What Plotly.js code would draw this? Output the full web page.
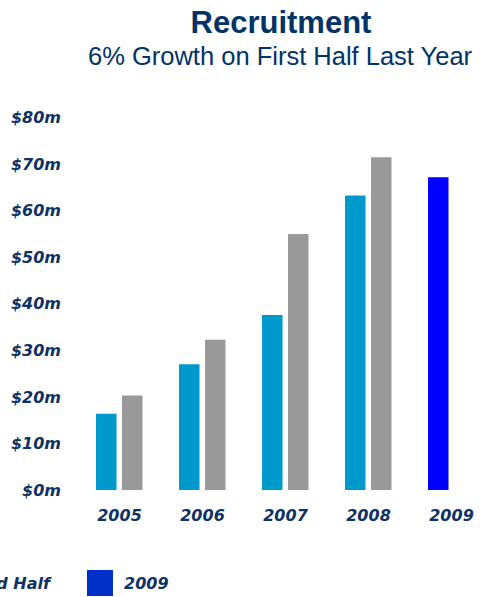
<!DOCTYPE html>
<html>
<head>
<meta charset="utf-8">
<script src="https://cdn.plot.ly/plotly-3.0.1.min.js"></script>
<style>html,body{margin:0;padding:0;background:#fff;}#chart{width:480px;height:597px;}</style>
</head>
<body>
<div id="chart"></div>
<script>
const years = ['2005', '2006', '2007', '2008'];
const firstHalf = [16.4, 27.0, 37.6, 63.3];
const secondHalf = [20.3, 32.3, 55.0, 71.5];
const year2009 = ['2009'];
const value2009 = [67.2];
const allYears = ['2005', '2006', '2007', '2008', '2009'];
const yTickVals = [0, 10, 20, 30, 40, 50, 60, 70, 80];
const yTickText = ['$0m', '$10m', '$20m', '$30m', '$40m', '$50m', '$60m', '$70m', '$80m'];

const navy = '#0d3263';
const tickFont = {family: 'DejaVu Sans', size: 16, color: navy, weight: 'bold', style: 'italic'};

const traces = [
  {type: 'bar', name: 'First Half', x: years, y: firstHalf, width: 0.247, offset: -0.283,
   marker: {color: '#0099cc'}, showlegend: false, hoverinfo: 'skip'},
  {type: 'bar', name: 'Second Half', x: years, y: secondHalf, width: 0.247, offset: 0.03,
   marker: {color: '#999999'}, showlegend: false, hoverinfo: 'skip'},
  {type: 'bar', name: '2009', x: year2009, y: value2009, width: 0.247, offset: -0.283,
   marker: {color: '#0000ff'}, showlegend: false, hoverinfo: 'skip'}
];

const L = 70, T = 100, W = 410, H = 390;
const px = v => (v - L) / W;
const py = v => (T + H - v) / H;

const layout = {
  width: 480, height: 597,
  margin: {l: L, r: 0, t: T, b: 107, pad: 0},
  paper_bgcolor: '#ffffff', plot_bgcolor: '#ffffff',
  barmode: 'overlay',
  showlegend: false,
  title: {text: '<b>Recruitment</b>', font: {family: 'Liberation Sans', size: 31, color: '#003366'},
          x: 281 / 480, xanchor: 'center', xref: 'container', y: 1 - 22 / 597, yanchor: 'middle', yref: 'container'},
  xaxis: {type: 'category', categoryorder: 'array', categoryarray: allYears,
          range: [(L - 119.5) / 83, (480 - 119.5) / 83], showgrid: false, zeroline: false, showline: false,
          ticks: '', tickfont: tickFont, ticklabelstandoff: 14, fixedrange: true},
  yaxis: {range: [0, 83.8], tickmode: 'array', tickvals: yTickVals, ticktext: yTickText,
          showgrid: false, zeroline: false, showline: false, ticks: '', tickfont: tickFont,
          ticklabelstandoff: 8, fixedrange: true},
  annotations: [
    {text: '6% Growth on First Half Last Year', xref: 'paper', yref: 'paper', x: px(280), y: py(56),
     xanchor: 'center', yanchor: 'middle', showarrow: false,
     font: {family: 'Liberation Sans', size: 25.5, color: '#003366'}},
    {text: 'Second Half', xref: 'paper', yref: 'paper', x: px(54), y: py(583),
     xanchor: 'right', yanchor: 'middle', showarrow: false, font: tickFont},
    {text: '2009', xref: 'paper', yref: 'paper', x: px(122), y: py(583),
     xanchor: 'left', yanchor: 'middle', showarrow: false, font: tickFont}
  ],
  shapes: [
    {type: 'rect', xref: 'paper', yref: 'paper', x0: px(87), x1: px(113), y0: py(570), y1: py(596),
     fillcolor: '#0030c8', line: {width: 0}}
  ]
};

Plotly.newPlot('chart', traces, layout, {staticPlot: true, displayModeBar: false});
</script>
</body>
</html>
